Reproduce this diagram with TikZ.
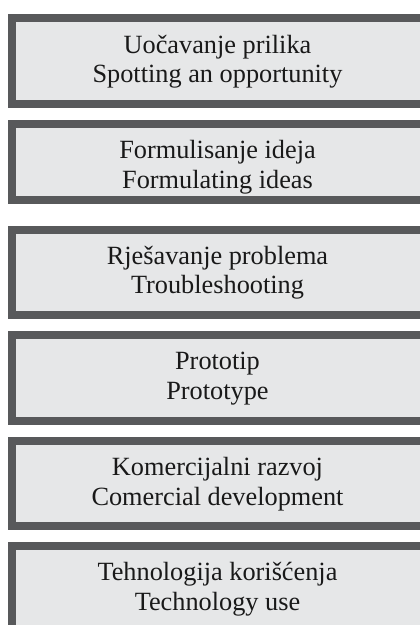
\documentclass[tikz,border=0pt]{standalone}
\usepackage{fontspec}
\setmainfont{Liberation Serif}
\definecolor{boxborder}{HTML}{58595B}
\definecolor{boxfill}{HTML}{E6E7E8}
\tikzset{
  stagebox/.style={draw=boxborder, fill=boxfill, line width=8pt, rectangle, anchor=north west, minimum width=440pt, inner sep=0pt, outer sep=0pt},
  lbl/.style={anchor=base, inner sep=0pt, font=\fontsize{26.3pt}{30pt}\selectfont, text=black!90}
}
\begin{document}
\begin{tikzpicture}[x=1pt,y=-1pt]
\useasboundingbox (0,0) rectangle (420,625);
\clip (0,0) rectangle (420,625);
% boxes (outer top, outer height)
\node[stagebox, minimum height=85.4pt] (b1) at (12.3,18.3) {};
\node[stagebox, minimum height=76pt]   (b2) at (12.3,124) {};
\node[stagebox, minimum height=85.6pt] (b3) at (12.3,229.7) {};
\node[stagebox, minimum height=85.7pt] (b4) at (12.3,335) {};
\node[stagebox, minimum height=85pt]   (b5) at (12.3,441) {};
\node[stagebox, minimum height=120pt]  (b6) at (12.3,546.3) {};
% labels
\node[lbl] (t1a) at (217.5,53) {Uočavanje prilika};
\node[lbl] (t1b) at (217.5,82.5) {Spotting an opportunity};
\node[lbl] (t2a) at (217.5,158.5) {Formulisanje ideja};
\node[lbl] (t2b) at (217.5,188) {Formulating ideas};
\node[lbl] (t3a) at (217.5,264.2) {Rješavanje problema};
\node[lbl] (t3b) at (217.5,293.7) {Troubleshooting};
\node[lbl] (t4a) at (217.5,369.5) {Prototip};
\node[lbl] (t4b) at (217.5,399) {Prototype};
\node[lbl] (t5a) at (217.5,475.5) {Komercijalni razvoj};
\node[lbl] (t5b) at (217.5,505) {Comercial development};
\node[lbl] (t6a) at (217.5,580.8) {Tehnologija korišćenja};
\node[lbl] (t6b) at (217.5,610.3) {Technology use};
\end{tikzpicture}
\end{document}
